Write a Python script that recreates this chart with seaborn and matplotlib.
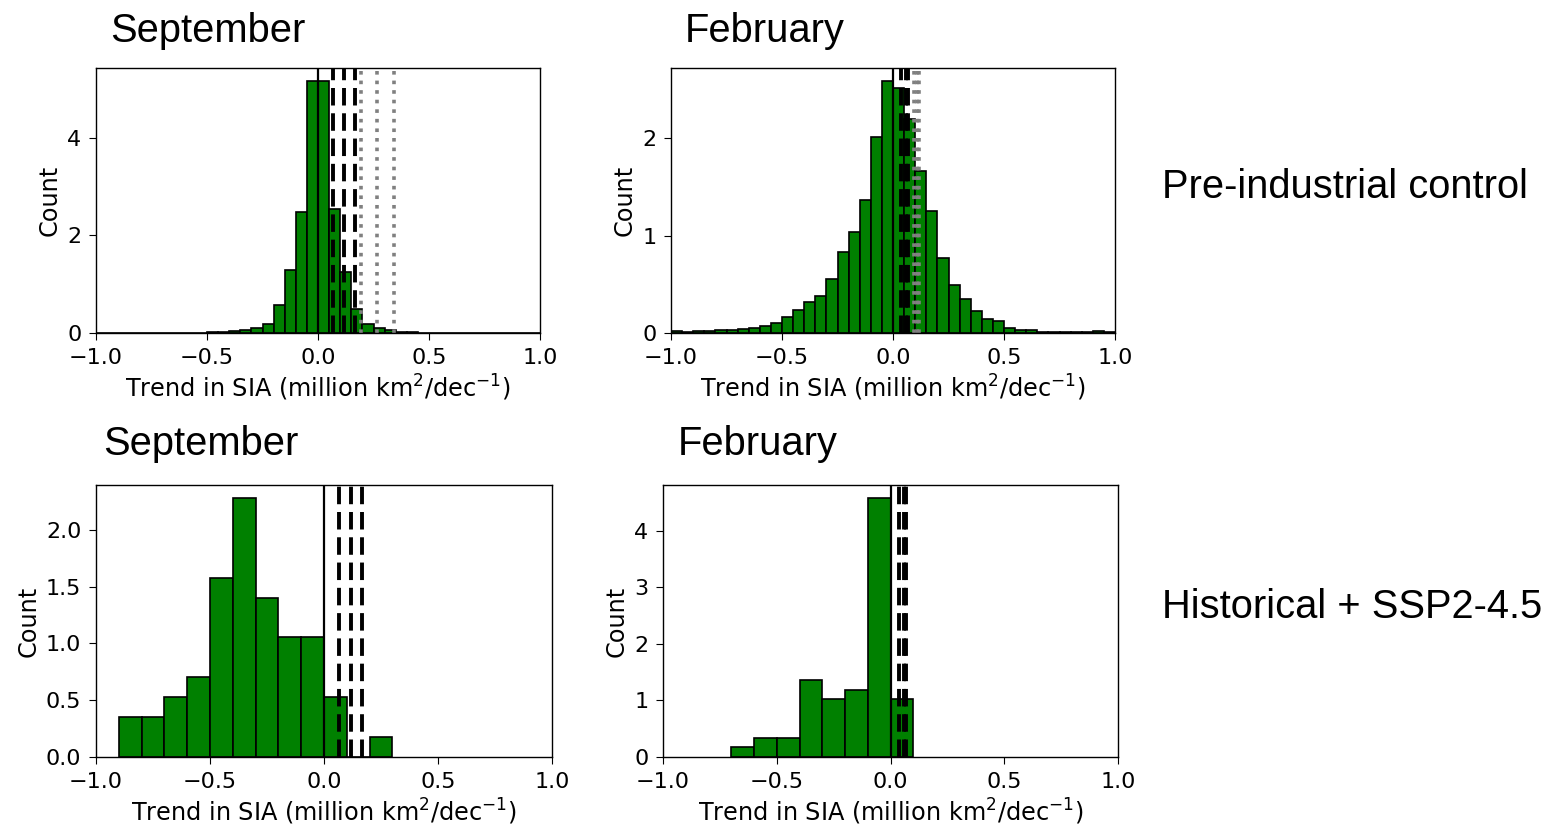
import numpy as np
import matplotlib
matplotlib.use("Agg")
import matplotlib.pyplot as plt
import seaborn as sns

# ----------------------------
# DATA
# ----------------------------
# pre-industrial control, bins of 0.05 from -1 to 1, values are densities
pi_edges = [round(-1.0 + 0.05 * i, 3) for i in range(41)]
pi_sep_density = [0.0, 0.0, 0.0, 0.0, 0.0, 0.002, 0.003, 0.004, 0.005, 0.005,
                  0.015, 0.03, 0.04, 0.07, 0.10, 0.185, 0.58, 1.30, 2.47, 5.17,
                  5.17, 2.53, 1.25, 0.50, 0.19, 0.10, 0.055, 0.03, 0.015, 0.008,
                  0.005, 0.004, 0.003, 0.002, 0.0, 0.0, 0.0, 0.0, 0.0, 0.0]
pi_feb_density = [0.02, 0.01, 0.017, 0.025, 0.03, 0.03, 0.04, 0.05, 0.072, 0.106,
                  0.164, 0.236, 0.32, 0.38, 0.555, 0.83, 1.04, 1.37, 2.01, 2.59,
                  2.51, 2.20, 1.66, 1.25, 0.77, 0.49, 0.35, 0.226, 0.147, 0.123,
                  0.055, 0.034, 0.034, 0.014, 0.014, 0.01, 0.01, 0.01, 0.017, 0.01]

# historical + SSP2-4.5, bins of 0.1, values are member counts
hist_sep_edges = [round(-0.9 + 0.1 * i, 3) for i in range(13)]
hist_sep_counts = [2, 2, 3, 4, 9, 13, 8, 6, 6, 3, 0, 1]
hist_feb_edges = [round(-0.7 + 0.1 * i, 3) for i in range(9)]
hist_feb_counts = [1, 2, 2, 8, 6, 7, 27, 6]

# observed trends (dashed) and other reference trends (dotted)
obs_sep = [0.066, 0.117, 0.168]
obs_feb = [0.036, 0.058, 0.066]
ref_sep = [0.192, 0.264, 0.344]
ref_feb = [0.096, 0.108, 0.119]

XLABEL = "Trend in SIA (million km$^2$/dec$^{-1}$)"

# ----------------------------
# PLOT
# ----------------------------
sns.set_style("ticks")
plt.rcParams["font.family"] = ["DejaVu Sans"]
plt.rcParams["xtick.labelsize"] = 16
plt.rcParams["ytick.labelsize"] = 16
plt.rcParams["axes.labelsize"] = 17.3
plt.rcParams["text.color"] = "black"
plt.rcParams["axes.labelcolor"] = "black"
plt.rcParams["axes.edgecolor"] = "black"
plt.rcParams["xtick.color"] = "black"
plt.rcParams["ytick.color"] = "black"
plt.rcParams["xtick.major.size"] = 5
plt.rcParams["ytick.major.size"] = 5
plt.rcParams["xtick.major.pad"] = 5.5
plt.rcParams["ytick.major.pad"] = 5.5

W, H = 1547, 830
fig = plt.figure(figsize=(W / 100, H / 100), dpi=100)


def box(left, top, right, bottom):
    return [left / W, 1 - bottom / H, (right - left) / W, (bottom - top) / H]


ax1 = fig.add_axes(box(96, 68, 540, 333))
ax2 = fig.add_axes(box(671, 68, 1115, 333))
ax3 = fig.add_axes(box(96, 485, 552, 757))
ax4 = fig.add_axes(box(663, 485, 1118, 757))


def centers(edges):
    return [(a + b) / 2 for a, b in zip(edges[:-1], edges[1:])]


def draw_panel(ax, edges, values, stat, obs, ref=None):
    sns.histplot(x=centers(edges), weights=list(values), bins=list(edges),
                 stat=stat, color="green", alpha=1.0, edgecolor="black",
                 linewidth=1.2, ax=ax)
    ax.axvline(0, color="black", lw=1.6)
    for v in obs:
        ax.axvline(v, color="black", ls=(0, (4.5, 2)), lw=2.8)
    if ref is not None:
        for v in ref:
            ax.axvline(v, color="grey", ls=":", lw=2.6)
    ax.set_xlim(-1, 1)
    ax.set_xticks([-1.0, -0.5, 0.0, 0.5, 1.0])
    ax.set_xlabel(XLABEL)
    ax.set_ylabel("Count")
    for s in ax.spines.values():
        s.set_visible(True)
        s.set_linewidth(1.0)


draw_panel(ax1, pi_edges, pi_sep_density, "count", obs_sep, ref_sep)
draw_panel(ax2, pi_edges, pi_feb_density, "count", obs_feb, ref_feb)
draw_panel(ax3, hist_sep_edges, hist_sep_counts, "density", obs_sep)
draw_panel(ax4, hist_feb_edges, hist_feb_counts, "density", obs_feb)

ax1.set_yticks([0, 2, 4])
ax2.set_yticks([0, 1, 2])
ax3.set_yticks([0.0, 0.5, 1.0, 1.5, 2.0])
ax4.set_yticks([0, 1, 2, 3, 4])

# titles and row labels
big = dict(family=["Liberation Sans", "DejaVu Sans"], fontsize=28.7,
           va="baseline", ha="left", color="black")
fig.text(110 / W, 1 - 42 / H, "September", **big)
fig.text(685 / W, 1 - 42 / H, "February", **big)
fig.text(103 / W, 1 - 455 / H, "September", **big)
fig.text(678 / W, 1 - 455 / H, "February", **big)
fig.text(1162 / W, 1 - 198 / H, "Pre-industrial control", **big)
fig.text(1162 / W, 1 - 618 / H, "Historical + SSP2-4.5", **big)

fig.savefig("out.png", dpi=100)
